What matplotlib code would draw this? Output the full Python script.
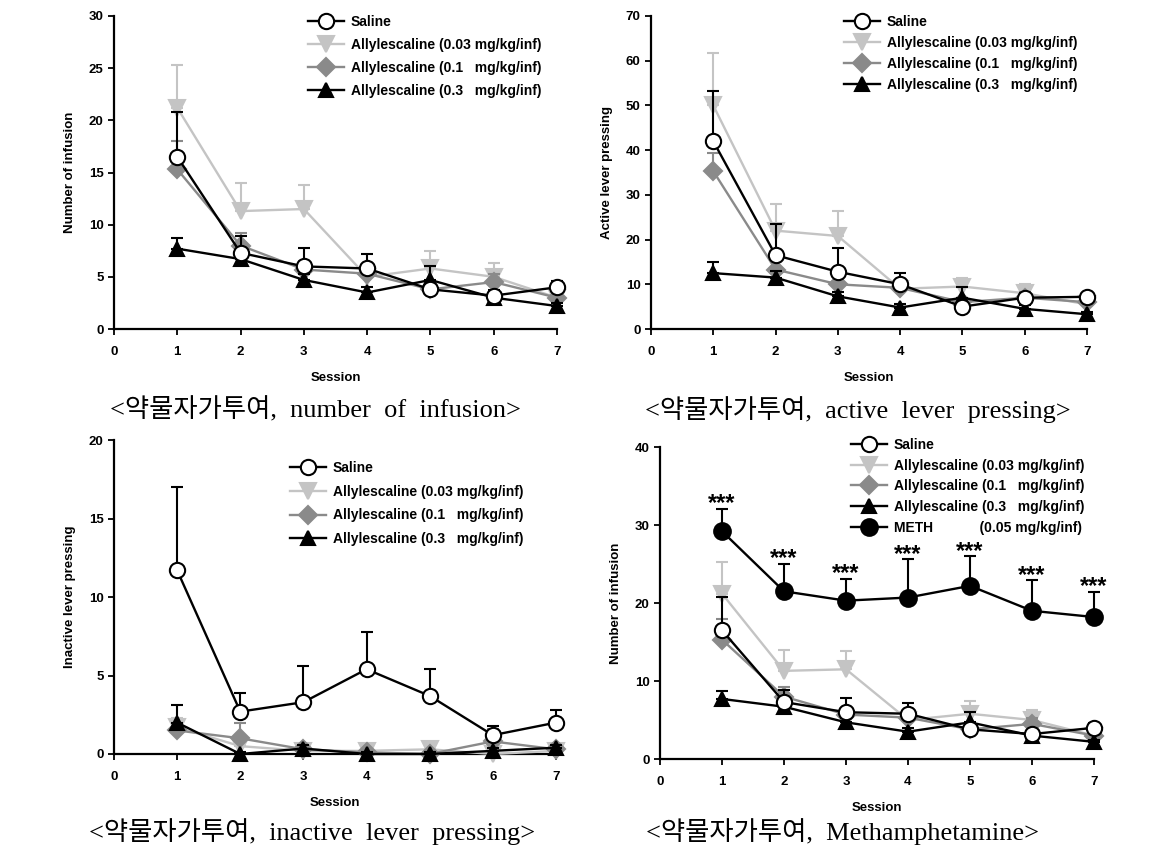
import matplotlib
matplotlib.use("Agg")
import matplotlib.pyplot as plt
import numpy as np

sessions = [1, 2, 3, 4, 5, 6, 7]

legend_labels = ["Saline",
                 "Allylescaline (0.03 mg/kg/inf)",
                 "Allylescaline (0.1   mg/kg/inf)",
                 "Allylescaline (0.3   mg/kg/inf)"]
meth_label = "METH            (0.05 mg/kg/inf)"

# Panel A: number of infusion
inf_saline = [16.5, 7.3, 6.0, 5.8, 3.8, 3.2, 4.0]
inf_saline_err = [4.3, 1.6, 1.8, 1.4, 0.4, 0.5, 0.6]
inf_003 = [21.2, 11.3, 11.5, 5.0, 5.8, 5.0, 3.0]
inf_003_err = [4.1, 2.7, 2.3, 0.6, 1.7, 1.3, 0.4]
inf_01 = [15.3, 8.0, 5.7, 5.3, 3.8, 4.5, 3.0]
inf_01_err = [2.7, 1.2, 0.8, 0.8, 0.5, 0.8, 0.4]
inf_03 = [7.7, 6.7, 4.7, 3.5, 4.7, 3.0, 2.2]
inf_03_err = [1.0, 0.5, 0.6, 0.5, 1.3, 0.4, 0.3]

# Panel B: active lever pressing
act_saline = [42.0, 16.5, 12.8, 10.0, 5.0, 7.0, 7.2]
act_saline_err = [11.2, 7.0, 5.4, 2.5, 0.8, 1.0, 0.8]
act_003 = [50.0, 22.0, 20.8, 9.0, 9.5, 8.0, 5.5]
act_003_err = [11.8, 6.0, 5.7, 1.5, 2.0, 2.0, 0.8]
act_01 = [35.3, 13.3, 10.0, 9.2, 6.0, 7.0, 6.0]
act_01_err = [4.0, 2.0, 2.0, 1.5, 1.0, 1.2, 0.8]
act_03 = [12.5, 11.5, 7.3, 4.8, 7.0, 4.5, 3.3]
act_03_err = [2.5, 1.5, 1.0, 0.7, 2.5, 0.8, 0.6]

# Panel C: inactive lever pressing
ina_saline = [11.7, 2.7, 3.3, 5.4, 3.7, 1.2, 2.0]
ina_saline_err = [5.3, 1.2, 2.3, 2.4, 1.7, 0.6, 0.8]
ina_003 = [1.7, 0.5, 0.2, 0.2, 0.3, 0.0, 0.2]
ina_003_err = [0.6, 0.3, 0.1, 0.1, 0.2, 0.1, 0.1]
ina_01 = [1.5, 1.0, 0.3, 0.1, 0.0, 0.8, 0.3]
ina_01_err = [0.5, 1.0, 0.2, 0.1, 0.1, 0.8, 0.2]
ina_03 = [2.0, 0.0, 0.35, 0.0, 0.0, 0.2, 0.4]
ina_03_err = [1.1, 0.1, 0.2, 0.1, 0.1, 0.2, 0.2]

# Panel D: METH
meth = [29.2, 21.5, 20.3, 20.7, 22.2, 19.0, 18.2]
meth_err = [2.9, 3.5, 2.8, 4.9, 3.8, 3.9, 3.2]
sig_text = "***"

captions = ["<약물자가투여,  number  of  infusion>",
            "<약물자가투여,  active  lever  pressing>",
            "<약물자가투여,  inactive  lever  pressing>",
            "<약물자가투여,  Methamphetamine>"]

W, H = 1165, 850
fig = plt.figure(figsize=(W / 100, H / 100), dpi=100)
plt.rcParams['font.family'] = ['Liberation Sans', 'DejaVu Sans']

def rect(l, r, t, b):
    return [l / W, 1 - b / H, (r - l) / W, (b - t) / H]

styles = [
    dict(marker='o', color='black', mfc='white', mec='black', ms=11, z=6),
    dict(marker='v', color='#c4c4c4', mfc='#c4c4c4', mec='#c4c4c4', ms=11, z=3),
    dict(marker='D', color='#8a8a8a', mfc='#8a8a8a', mec='#8a8a8a', ms=9, z=4),
    dict(marker='^', color='black', mfc='black', mec='black', ms=10, z=5),
]
meth_style = dict(marker='o', color='black', mfc='black', mec='black', ms=12, z=7)


def draw_series(ax, y, err, st, label):
    y = np.array(y)
    err = np.array(err)
    ax.errorbar(sessions, y, yerr=[np.zeros_like(err), err], fmt='none',
                ecolor=st['color'], elinewidth=1.5, capsize=4.5, capthick=1.5,
                zorder=st['z'] - 0.5, clip_on=False)
    ln, = ax.plot(sessions, y, marker=st['marker'], color=st['color'],
                  mfc=st['mfc'], mec=st['mec'], ms=st['ms'], lw=1.7,
                  mew=1.5, zorder=st['z'], label=label, clip_on=False)
    return ln


def setup(ax, ymax, ystep, ylabel):
    ax.set_xlim(0, 7)
    ax.set_ylim(0, ymax)
    ax.set_xticks(range(0, 8))
    ax.set_yticks(np.arange(0, ymax + 0.1, ystep))
    for s in ['top', 'right']:
        ax.spines[s].set_visible(False)
    for s in ['left', 'bottom']:
        ax.spines[s].set_linewidth(1.6)
    ax.tick_params(direction='out', length=4, width=1.3, labelsize=9.5)
    ax.tick_params(axis='x', pad=8)
    for lbl in ax.get_xticklabels() + ax.get_yticklabels():
        lbl.set_fontweight('bold')
    ax.set_xlabel("Session", fontsize=9.5, fontweight='bold', labelpad=10)
    ax.set_ylabel(ylabel, fontsize=9.5, fontweight='bold', labelpad=9)


panels = [
    (rect(114, 557, 16, 329), 30, 5, "Number of infusion",
     [(inf_saline, inf_saline_err), (inf_003, inf_003_err), (inf_01, inf_01_err), (inf_03, inf_03_err)]),
    (rect(651, 1087, 16, 329), 70, 10, "Active lever pressing",
     [(act_saline, act_saline_err), (act_003, act_003_err), (act_01, act_01_err), (act_03, act_03_err)]),
    (rect(114, 556, 440, 754), 20, 5, "Inactive lever pressing",
     [(ina_saline, ina_saline_err), (ina_003, ina_003_err), (ina_01, ina_01_err), (ina_03, ina_03_err)]),
    (rect(660, 1094, 447, 759), 40, 10, "Number of infusion",
     [(inf_saline, inf_saline_err), (inf_003, inf_003_err), (inf_01, inf_01_err), (inf_03, inf_03_err)]),
]

caption_pos = [(315, 410), (858, 410), (312, 832), (842, 832)]
legend_pos = [(308, 15), (844, 15), (290, 461), (851, 438)]
legend_spacing = [0.65, 0.5, 0.7, 0.48]

for i, (r, ymax, ystep, ylabel, series) in enumerate(panels):
    ax = fig.add_axes(r)
    setup(ax, ymax, ystep, ylabel)
    handles = []
    for (y, e), st, lab in zip(series, styles, legend_labels):
        handles.append(draw_series(ax, y, e, st, lab))
    if i == 3:
        handles.append(draw_series(ax, meth, meth_err, meth_style, meth_label))
        for x, y, e in zip(sessions, meth, meth_err):
            ax.annotate(sig_text, (x, y + e), xytext=(0, -1), textcoords='offset points',
                        ha='center', va='baseline', fontsize=17, fontweight='bold')
    lx, ly = legend_pos[i]
    leg = ax.legend(handles=handles, loc='upper left',
                    bbox_to_anchor=(lx / W, 1 - ly / H), bbox_transform=fig.transFigure,
                    frameon=False, fontsize=10, handlelength=2.6, handletextpad=0.5,
                    labelspacing=legend_spacing[i], borderaxespad=0, borderpad=0)
    for t in leg.get_texts():
        t.set_fontweight('bold')
    cx, cy = caption_pos[i]
    fig.text(cx / W, 1 - cy / H, captions[i], ha='center', va='center',
             fontsize=19, family=['Liberation Serif', 'Noto Sans CJK KR'])

fig.savefig("out.png", dpi=100, facecolor='white')
